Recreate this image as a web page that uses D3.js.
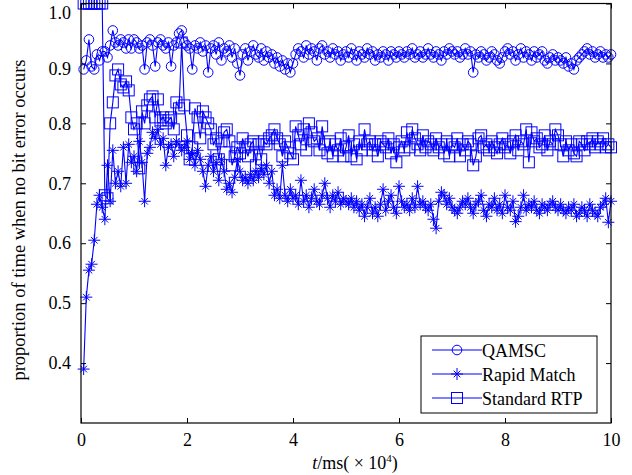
<!DOCTYPE html>
<html>
<head>
<meta charset="utf-8">
<script src="https://cdn.jsdelivr.net/npm/d3@7"></script>
<style>
  body { margin: 0; background: #fff; }
  svg text { font-family: "Liberation Serif", "Times New Roman", Times, serif; }
</style>
</head>
<body>
<div id="chart"></div>
<script>
// sample times, t in units of 10^4 ms (one sample every 500 ms)
const tStep = 0.05;

const qamsc = [
  0.89, 0.905, 0.94, 0.895, 0.89, 0.915, 0.905, 0.92, 0.92, 0.91, 0.93, 0.955, 0.935, 0.93, 0.94, 0.935, 0.925, 0.94, 0.925, 0.94,
  0.935, 0.925, 0.93, 0.89, 0.935, 0.94, 0.93, 0.895, 0.935, 0.94, 0.93, 0.925, 0.935, 0.895, 0.93, 0.935, 0.95, 0.955, 0.935, 0.93,
  0.925, 0.89, 0.93, 0.925, 0.935, 0.92, 0.93, 0.885, 0.925, 0.93, 0.915, 0.935, 0.905, 0.925, 0.92, 0.93, 0.91, 0.925, 0.90, 0.88,
  0.915, 0.925, 0.905, 0.92, 0.93, 0.915, 0.91, 0.925, 0.905, 0.92, 0.91, 0.915, 0.90, 0.91, 0.895, 0.905, 0.89, 0.90, 0.885, 0.90,
  0.915, 0.925, 0.92, 0.91, 0.93, 0.915, 0.925, 0.92, 0.905, 0.925, 0.93, 0.915, 0.92, 0.91, 0.925, 0.915, 0.92, 0.905, 0.915, 0.92,
  0.91, 0.925, 0.915, 0.905, 0.92, 0.915, 0.91, 0.925, 0.915, 0.92, 0.905, 0.915, 0.91, 0.92, 0.915, 0.905, 0.92, 0.915, 0.91, 0.92,
  0.915, 0.91, 0.92, 0.915, 0.925, 0.91, 0.915, 0.92, 0.91, 0.915, 0.925, 0.915, 0.91, 0.92, 0.915, 0.905, 0.92, 0.915, 0.925, 0.92,
  0.915, 0.92, 0.91, 0.915, 0.925, 0.915, 0.92, 0.885, 0.915, 0.91, 0.92, 0.915, 0.905, 0.91, 0.92, 0.915, 0.905, 0.90, 0.91, 0.92,
  0.925, 0.915, 0.92, 0.905, 0.915, 0.925, 0.91, 0.92, 0.915, 0.905, 0.92, 0.91, 0.915, 0.92, 0.905, 0.90, 0.91, 0.915, 0.905, 0.91,
  0.905, 0.90, 0.91, 0.895, 0.90, 0.89, 0.905, 0.91, 0.915, 0.92, 0.925, 0.915, 0.92, 0.91, 0.915, 0.92, 0.91, 0.915, 0.91, 0.915
];

const rapidMatch = [
  0.39, 0.51, 0.555, 0.565, 0.605, 0.665, 0.68, 0.66, 0.64, 0.73, 0.67, 0.755, 0.70, 0.72, 0.695, 0.76, 0.70, 0.765, 0.735, 0.745,
  0.72, 0.77, 0.735, 0.67, 0.75, 0.76, 0.785, 0.775, 0.79, 0.765, 0.775, 0.73, 0.76, 0.765, 0.745, 0.77, 0.765, 0.755, 0.76, 0.77,
  0.74, 0.75, 0.73, 0.755, 0.74, 0.72, 0.695, 0.73, 0.745, 0.72, 0.735, 0.705, 0.74, 0.72, 0.69, 0.70, 0.685, 0.71, 0.74, 0.72,
  0.705, 0.71, 0.70, 0.715, 0.705, 0.72, 0.71, 0.725, 0.715, 0.73, 0.70, 0.72, 0.68, 0.69, 0.675, 0.73, 0.68, 0.67, 0.69, 0.675,
  0.68, 0.665, 0.705, 0.67, 0.68, 0.66, 0.675, 0.69, 0.67, 0.665, 0.68, 0.70, 0.675, 0.66, 0.68, 0.67, 0.685, 0.665, 0.675, 0.67,
  0.665, 0.675, 0.66, 0.67, 0.655, 0.665, 0.645, 0.66, 0.675, 0.65, 0.66, 0.645, 0.665, 0.69, 0.655, 0.67, 0.68, 0.66, 0.65, 0.695,
  0.67, 0.66, 0.665, 0.655, 0.675, 0.66, 0.695, 0.665, 0.67, 0.66, 0.655, 0.665, 0.64, 0.625, 0.67, 0.685, 0.68, 0.665, 0.675, 0.66,
  0.655, 0.65, 0.66, 0.67, 0.665, 0.675, 0.66, 0.65, 0.665, 0.67, 0.68, 0.655, 0.645, 0.665, 0.66, 0.675, 0.655, 0.665, 0.65, 0.68,
  0.66, 0.655, 0.67, 0.636, 0.645, 0.66, 0.68, 0.655, 0.665, 0.66, 0.67, 0.655, 0.65, 0.665, 0.66, 0.655, 0.665, 0.67, 0.66, 0.655,
  0.665, 0.655, 0.65, 0.66, 0.655, 0.665, 0.645, 0.65, 0.66, 0.655, 0.645, 0.665, 0.655, 0.65, 0.645, 0.66, 0.665, 0.675, 0.635, 0.67
];

const standardRTP = [
  1.0, 1.0, 1.0, 1.0, 1.0, 1.0, 1.0, 1.0, 0.68, 0.675, 0.80, 0.835, 0.88, 0.89, 0.865, 0.86, 0.87, 0.855, 0.81, 0.79,
  0.80, 0.725, 0.82, 0.80, 0.83, 0.84, 0.845, 0.81, 0.84, 0.805, 0.81, 0.80, 0.805, 0.81, 0.79, 0.835, 0.825, 0.935, 0.83, 0.78,
  0.74, 0.76, 0.825, 0.81, 0.775, 0.82, 0.81, 0.80, 0.79, 0.765, 0.775, 0.74, 0.77, 0.785, 0.79, 0.77, 0.73, 0.745, 0.76, 0.75,
  0.775, 0.76, 0.745, 0.765, 0.77, 0.73, 0.765, 0.74, 0.77, 0.765, 0.775, 0.78, 0.79, 0.775, 0.765, 0.745, 0.77, 0.76, 0.75, 0.74,
  0.795, 0.78, 0.765, 0.79, 0.755, 0.80, 0.785, 0.77, 0.775, 0.755, 0.795, 0.765, 0.75, 0.77, 0.745, 0.765, 0.755, 0.775, 0.745, 0.76,
  0.78, 0.745, 0.765, 0.74, 0.77, 0.755, 0.79, 0.765, 0.77, 0.755, 0.765, 0.745, 0.77, 0.765, 0.76, 0.775, 0.75, 0.765, 0.735, 0.76,
  0.77, 0.755, 0.785, 0.76, 0.79, 0.775, 0.765, 0.755, 0.78, 0.76, 0.77, 0.765, 0.755, 0.775, 0.76, 0.765, 0.75, 0.77, 0.745, 0.765,
  0.76, 0.775, 0.745, 0.765, 0.755, 0.77, 0.765, 0.73, 0.745, 0.775, 0.78, 0.76, 0.765, 0.755, 0.77, 0.76, 0.75, 0.765, 0.775, 0.76,
  0.765, 0.75, 0.77, 0.78, 0.755, 0.77, 0.765, 0.79, 0.735, 0.785, 0.77, 0.775, 0.76, 0.765, 0.78, 0.755, 0.77, 0.765, 0.79, 0.78,
  0.765, 0.745, 0.77, 0.755, 0.765, 0.75, 0.745, 0.77, 0.765, 0.755, 0.77, 0.765, 0.775, 0.76, 0.77, 0.765, 0.775, 0.76, 0.765, 0.76
];

const xTicks = [0, 2, 4, 6, 8, 10];
const yTicks = [0.4, 0.5, 0.6, 0.7, 0.8, 0.9, 1.0];
const seriesNames = ["QAMSC", "Rapid Match", "Standard RTP"];

const width = 632, height = 475;
const margin = { top: 3.5, right: 21, bottom: 52, left: 81 };
const blue = "#0000ff";
const serif = "'Liberation Serif', 'Times New Roman', Times, serif";

const svg = d3.select("#chart").append("svg")
  .attr("width", width)
  .attr("height", height)
  .attr("font-family", serif);

const x = d3.scaleLinear().domain([0, 10]).range([margin.left, width - margin.right]);
const y = d3.scaleLinear().domain([0.3, 1.0]).range([height - margin.bottom, margin.top]);

// markers
function drawMarker(g, kind) {
  if (kind === "circle") {
    g.append("circle").attr("r", 4.8).attr("fill", "none").attr("stroke", blue).attr("stroke-width", 1);
  } else if (kind === "square") {
    g.append("rect").attr("x", -5.5).attr("y", -5.5).attr("width", 11).attr("height", 11)
      .attr("fill", "none").attr("stroke", blue).attr("stroke-width", 1);
  } else {
    g.append("path")
      .attr("d", "M0,-6V6M-6,0H6M-3.3,-3.3L3.3,3.3M-3.3,3.3L3.3,-3.3")
      .attr("stroke", blue).attr("stroke-width", 1).attr("fill", "none");
  }
}

const series = [
  { name: seriesNames[0], values: qamsc, marker: "circle" },
  { name: seriesNames[1], values: rapidMatch, marker: "star" },
  { name: seriesNames[2], values: standardRTP, marker: "square" }
];

const line = d3.line()
  .x((d, i) => x((i + 1) * tStep))
  .y(d => y(d));

series.forEach(s => {
  svg.append("path")
    .datum(s.values)
    .attr("fill", "none")
    .attr("stroke", blue)
    .attr("stroke-width", 1.1)
    .attr("d", line);

  svg.append("g")
    .selectAll("g")
    .data(s.values)
    .join("g")
    .attr("transform", (d, i) => `translate(${x((i + 1) * tStep)},${y(d)})`)
    .each(function() { drawMarker(d3.select(this), s.marker); });
});

// axes (ticks inward, mirrored box)
const xAxis = svg.append("g")
  .attr("transform", `translate(0,${height - margin.bottom})`)
  .call(d3.axisBottom(x).tickValues(xTicks).tickSize(-5).tickPadding(10).tickFormat(d3.format("d")));
const xAxisTop = svg.append("g")
  .attr("transform", `translate(0,${margin.top})`)
  .call(d3.axisTop(x).tickValues(xTicks).tickSize(-5).tickFormat(""));
const yAxis = svg.append("g")
  .attr("transform", `translate(${margin.left},0)`)
  .call(d3.axisLeft(y).tickValues(yTicks).tickSize(-5).tickPadding(10).tickFormat(d3.format(".1f")));
const yAxisRight = svg.append("g")
  .attr("transform", `translate(${width - margin.right},0)`)
  .call(d3.axisRight(y).tickValues(yTicks).tickSize(-5).tickFormat(""));

[xAxis, xAxisTop, yAxis, yAxisRight].forEach(a => {
  a.attr("font-family", serif);
  a.select(".domain").remove();
  a.selectAll(".tick line").attr("stroke", "#000");
  a.selectAll(".tick text").attr("font-size", 18).attr("fill", "#000");
});
// the top labels sit a little low in the original
yAxis.selectAll(".tick text")
  .attr("dy", d => d === 1.0 ? "0.85em" : d === 0.9 ? "0.62em" : "0.32em");

svg.append("rect")
  .attr("x", margin.left).attr("y", margin.top)
  .attr("width", width - margin.left - margin.right)
  .attr("height", height - margin.top - margin.bottom)
  .attr("fill", "none").attr("stroke", "#000").attr("stroke-width", 1.2);

// axis labels
const xl = svg.append("text")
  .attr("x", 355)
  .attr("y", 469)
  .attr("text-anchor", "middle")
  .attr("font-size", 18);
xl.append("tspan").attr("font-style", "italic").text("t");
xl.append("tspan").text("/ms( × 10");
xl.append("tspan").attr("font-size", 11).attr("dy", -7).text("4");
xl.append("tspan").attr("dy", 7).text(")");

svg.append("text")
  .attr("transform", `translate(25,220) rotate(-90)`)
  .attr("text-anchor", "middle")
  .attr("font-size", 18.5)
  .text("proportion of time when no bit error occurs");

// legend
const legend = svg.append("g").attr("transform", "translate(421,336)");
legend.append("rect")
  .attr("width", 176).attr("height", 77)
  .attr("fill", "#fff").attr("stroke", "#000").attr("stroke-width", 1);

series.forEach((s, i) => {
  const row = legend.append("g").attr("transform", `translate(0,${14 + i * 24})`);
  row.append("line").attr("x1", 11).attr("x2", 61).attr("stroke", blue).attr("stroke-width", 1);
  const m = row.append("g").attr("transform", "translate(36,0)");
  drawMarker(m, s.marker);
  row.append("text").attr("x", 61).attr("y", 7).attr("font-size", 18).text(s.name);
});
</script>
</body>
</html>
